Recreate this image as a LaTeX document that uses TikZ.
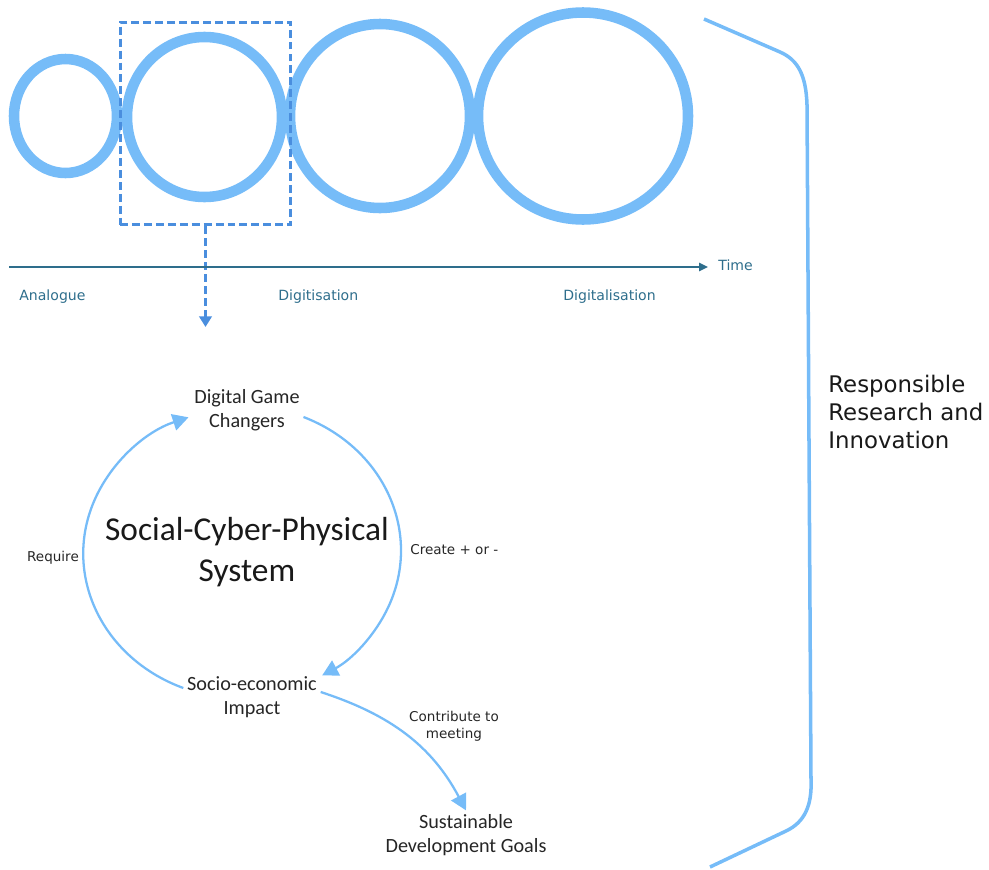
\documentclass[tikz,border=0pt]{standalone}
\usepackage{fontspec}
\setmainfont{Carlito}
\newfontfamily\vfont{DejaVu Sans}
\usepackage{tikz}
\usetikzlibrary{positioning,arrows.meta}
\definecolor{ringblue}{RGB}{118,188,248}
\definecolor{zoomblue}{RGB}{74,142,222}
\definecolor{axisteal}{RGB}{46,110,140}
\tikzset{ring/.style={draw=ringblue,line width=6pt}}
\tikzset{flow/.style={draw=ringblue,line width=1.3pt,-{Triangle[length=9pt,width=9.5pt]}}}
\tikzset{phase/.style={text=axisteal,font=\vfont\fontsize{8}{10}\selectfont,anchor=west,inner sep=0pt}}
\tikzset{stage/.style={align=center,text=black!85,font=\fontsize{11.5}{13.8}\selectfont,inner sep=2pt}}
\tikzset{verb/.style={align=center,text=black!85,font=\vfont\fontsize{7.7}{9.6}\selectfont,inner sep=0pt}}

\begin{document}
\begin{tikzpicture}[x=0.02cm,y=0.02cm]
            \useasboundingbox (0,0) rectangle (989,-869);
            % eras
            \draw[ring] (65.5,-116) ellipse [x radius=51.5,y radius=57];
            \draw[ring] (204.5,-117) ellipse [x radius=77.5,y radius=80];
            \draw[ring] (380,-116) ellipse [x radius=90,y radius=92];
            \draw[ring] (583,-116) ellipse [x radius=105,y radius=103.5];

            \node[draw=zoomblue,line width=1.7pt,dash pattern=on 4.5pt off 2.3pt,minimum width=3.42cm,minimum height=4.06cm,inner sep=0pt] (zoom) at (205.5,-123.5) {};
            \coordinate (zoomend) at (205.5,-327);
            \draw[zoomblue,line width=1.7pt,dash pattern=on 4.5pt off 2.3pt,-{Triangle[length=6pt,width=7pt]}] (zoom.south) -- (zoomend);

            % time axis
            \coordinate (t0) at (9,-267);
            \node[phase] (time) at (718,-265) {Time};
            \draw[axisteal,line width=1.4pt,shorten >=0.2cm,-{Triangle[length=5pt,width=4.5pt]}] (t0) -- (t0 -| time.west);
            \node[phase] (analogue) at (19,-297) {Analogue};
            \node[phase] (digitisation) at (278,-297) {Digitisation};
            \node[phase] (digitalisation) at (563,-297) {Digitalisation};

            % cycle
            \node[stage] (dgc) at (247,-410) {Digital Game\\Changers};
            \node[align=center,text=black!90,font=\fontsize{19}{23}\selectfont] (scps) at (247,-552) {Social-Cyber-Physical\\System};
            \node[stage] (sei) at (252,-697) {Socio-economic\\Impact};
            \node[stage] (sdg) at (466,-835) {Sustainable\\Development Goals};

            \draw[flow] ([yshift=0.18cm]sei.west) arc[start angle=248,end angle=110,x radius=160,y radius=145];
            \draw[flow] ([yshift=-0.14cm]dgc.east) arc[start angle=67,end angle=-59.5,x radius=160,y radius=145];
            \draw[flow] ([yshift=0.1cm]sei.east) to[out=-18,in=118] (sdg.north);

            \node[verb] (require) at (53,-558) {Require};
            \node[verb,anchor=west] (create) at (410,-550) {Create + or -};
            \node[verb] (contribute) at (454,-726) {Contribute to\\meeting};

            % RRI
            \draw[ringblue,line width=2pt] (704,-19) -- (780,-52) .. controls (798,-60) and (806,-75) .. (807,-105) -- (811,-780) .. controls (812,-805) and (805,-822) .. (786,-831) -- (710,-867);
            \node[align=left,anchor=west,inner sep=0pt,text=black!90,font=\vfont\fontsize{13}{16}\selectfont] (rri) at (828,-412) {Responsible\\Research and\\Innovation};
\end{tikzpicture}
\end{document}
